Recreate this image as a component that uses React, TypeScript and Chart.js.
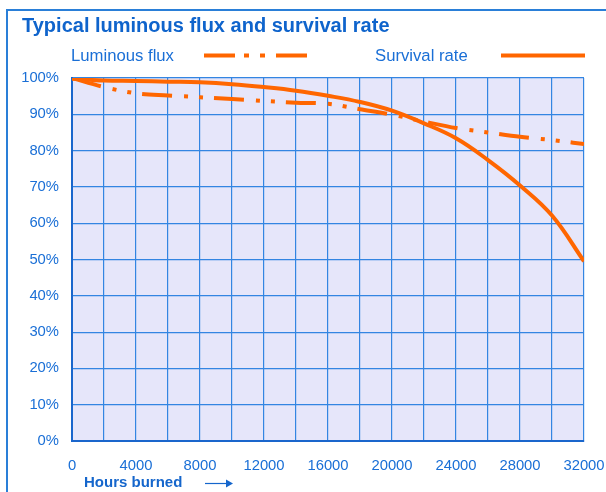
import React, { useEffect, useRef } from "react";
import { Chart, registerables } from "chart.js";

Chart.register(...registerables);

const hours = [0, 2000, 4000, 6000, 8000, 10000, 12000, 14000, 16000, 18000, 20000, 22000, 24000, 26000, 28000, 30000, 32000];
const luminousFlux = [100, 97.5, 95.8, 95.2, 94.7, 94.2, 93.7, 93.2, 92.9, 91.4, 89.9, 88.0, 86.2, 85.0, 83.8, 82.9, 81.8];
const survivalRate = [99.8, 99.3, 99.2, 99.0, 98.8, 98.3, 97.5, 96.5, 95.1, 93.4, 91.0, 87.5, 83.4, 77.4, 70.4, 62.1, 49.5];
const xLabelStep = 4000;

const titleText = "Typical luminous flux and survival rate";
const legendFlux = "Luminous flux";
const legendSurvival = "Survival rate";
const xAxisTitle = "Hours burned";

const ORANGE = "#ff6600";
const BLUE_TEXT = "#1a6fd6";
const TITLE_BLUE = "#0f64cc";
const FONT = "'Liberation Sans', Arial, sans-serif";

const decorPlugin = {
  id: "decor",
  beforeDraw(chart: any) {
    const { ctx, chartArea } = chart;
    ctx.save();
    ctx.strokeStyle = "#2a7fd8";
    ctx.lineWidth = 2;
    ctx.strokeRect(7, 10, 700, 600);
    ctx.fillStyle = "#e6e6fa";
    ctx.fillRect(chartArea.left, chartArea.top, chartArea.right - chartArea.left, chartArea.bottom - chartArea.top);
    ctx.restore();
  },
  afterDraw(chart: any) {
    const { ctx } = chart;
    ctx.save();
    ctx.fillStyle = TITLE_BLUE;
    ctx.font = `bold 20px ${FONT}`;
    ctx.textBaseline = "alphabetic";
    ctx.textAlign = "left";
    ctx.fillText(titleText, 22, 32);
    ctx.fillStyle = BLUE_TEXT;
    ctx.font = `16.7px ${FONT}`;
    ctx.fillText(legendFlux, 71, 61);
    ctx.fillText(legendSurvival, 375, 61);
    ctx.strokeStyle = ORANGE;
    ctx.lineWidth = 4;
    ctx.lineCap = "butt";
    ctx.setLineDash([31, 9, 5, 11, 5, 11, 31]);
    ctx.beginPath();
    ctx.moveTo(204, 55.5);
    ctx.lineTo(307, 55.5);
    ctx.stroke();
    ctx.setLineDash([]);
    ctx.beginPath();
    ctx.moveTo(501, 55.5);
    ctx.lineTo(585, 55.5);
    ctx.stroke();
    ctx.fillStyle = "#1566cc";
    ctx.font = `bold 15px ${FONT}`;
    ctx.textBaseline = "middle";
    ctx.fillText(xAxisTitle, 84, 483);
    ctx.strokeStyle = "#1566cc";
    ctx.lineWidth = 1.2;
    ctx.beginPath();
    ctx.moveTo(205, 483.5);
    ctx.lineTo(229, 483.5);
    ctx.stroke();
    ctx.fillStyle = "#1566cc";
    ctx.beginPath();
    ctx.moveTo(233, 483.5);
    ctx.lineTo(226, 479.5);
    ctx.lineTo(226, 487.5);
    ctx.closePath();
    ctx.fill();
    ctx.restore();
  },
};

export default function App() {
  const ref = useRef<HTMLCanvasElement | null>(null);
  useEffect(() => {
    if (!ref.current) return;
    const chart = new Chart(ref.current, {
      type: "line",
      data: {
        datasets: [
          {
            label: legendFlux,
            data: hours.map((h, i) => ({ x: h, y: luminousFlux[i] })),
            borderColor: ORANGE,
            borderWidth: 4,
            borderDash: [30, 12, 4, 11, 4, 11],
            borderCapStyle: "butt",
            pointRadius: 0,
            tension: 0.4,
            cubicInterpolationMode: "monotone",
            fill: false,
          },
          {
            label: legendSurvival,
            data: hours.map((h, i) => ({ x: h, y: survivalRate[i] })),
            borderColor: ORANGE,
            borderWidth: 4,
            pointRadius: 0,
            tension: 0.4,
            fill: false,
          },
        ],
      },
      options: {
        responsive: false,
        animation: false,
        layout: { padding: { top: 78, right: 22, bottom: 0, left: 0 } },
        plugins: {
          legend: { display: false },
          title: { display: false },
          tooltip: { enabled: false },
        },
        scales: {
          x: {
            type: "linear",
            min: 0,
            max: 32000,
            afterFit: (s: any) => {
              s.height = 51;
              s.paddingLeft = 0;
              s.paddingRight = 0;
            },
            ticks: {
              stepSize: 2000,
              autoSkip: false,
              maxRotation: 0,
              padding: 16,
              color: BLUE_TEXT,
              font: { family: FONT, size: 14.8 },
              callback: (v: any) => (Number(v) % xLabelStep === 0 ? String(v) : ""),
            },
            grid: { color: "#3385e2", lineWidth: 1.2, drawTicks: false },
            border: { color: "#1a66cc", width: 2 },
          },
          y: {
            min: 0,
            max: 100,
            afterFit: (s: any) => {
              s.width = 72;
              s.paddingTop = 0;
              s.paddingBottom = 0;
            },
            ticks: {
              stepSize: 10,
              padding: 13,
              color: BLUE_TEXT,
              font: { family: FONT, size: 14.8 },
              callback: (v: any) => `${v}%`,
            },
            grid: { color: "#3385e2", lineWidth: 1.2, drawTicks: false },
            border: { color: "#1a66cc", width: 2 },
          },
        },
      },
      plugins: [decorPlugin],
    } as any);
    return () => chart.destroy();
  }, []);
  return (
    <div style={{ position: "absolute", left: 0, top: 0, width: 606, height: 492, background: "#fff" }}>
      <canvas ref={ref} width={606} height={492} style={{ display: "block" }} />
    </div>
  );
}
